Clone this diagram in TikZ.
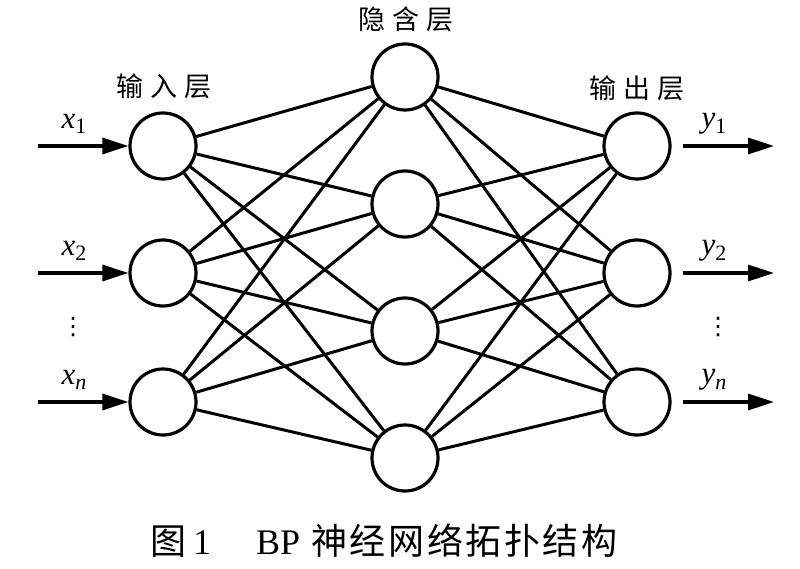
\documentclass[tikz,border=0pt]{standalone}
\usepackage{fontspec}
\setmainfont{Liberation Serif}
\newfontfamily\cjk{Noto Sans CJK SC}
\newfontfamily\dejavu{DejaVu Sans}
\usetikzlibrary{arrows.meta}
\newcommand{\cjsp}{\hspace{7pt}}
\tikzset{
  neuron/.style={circle,draw,line width=3.2pt,minimum size=66pt,inner sep=0pt,fill=white},
  link/.style={line width=3pt},
  io/.style={line width=3.2pt,-{Triangle[length=26pt,width=16pt]}},
  ttl/.style={font=\cjk\fontsize{27}{27}\selectfont,inner sep=0pt},
  lbl/.style={font=\fontsize{31}{31}\selectfont,inner sep=0pt},
  vdots/.style={font=\dejavu\fontsize{24}{24}\selectfont,inner sep=0pt}
}
\newcommand{\subl}[2]{\textit{#1}\raisebox{-0.4ex}{\fontsize{22}{22}\selectfont #2}}
\begin{document}
\begin{tikzpicture}[x=1pt,y=-1pt]
\useasboundingbox (0,0) rectangle (800,569);
% nodes
\node[neuron] (i1) at (163,146) {};
\node[neuron] (i2) at (163,273) {};
\node[neuron] (i3) at (163,402) {};
\node[neuron] (h1) at (405,77) {};
\node[neuron] (h2) at (405,204) {};
\node[neuron] (h3) at (405,331) {};
\node[neuron] (h4) at (405,458) {};
\node[neuron] (o1) at (637,146) {};
\node[neuron] (o2) at (637,273) {};
\node[neuron] (o3) at (637,402) {};
\foreach \i in {1,2,3}{
  \foreach \h in {1,2,3,4}{
    \draw[link] (i\i) -- (h\h);
    \draw[link] (h\h) -- (o\i);
  }
}
% inputs
\coordinate (a1) at (38,146);
\coordinate (a2) at (38,273);
\coordinate (a3) at (38,402);
\draw[io] (a1) -- (i1);
\draw[io] (a2) -- (i2);
\draw[io] (a3) -- (i3);
\coordinate (c1) at (683,146);
\coordinate (c2) at (683,273);
\coordinate (c3) at (683,402);
\coordinate (b1) at (774,146);
\coordinate (b2) at (774,273);
\coordinate (b3) at (774,402);
\draw[io] (c1) -- (b1);
\draw[io] (c2) -- (b2);
\draw[io] (c3) -- (b3);
% labels
\node[lbl] (lx1) at (74,124) {\subl{x}{1}};
\node[lbl] (lx2) at (74,251) {\subl{x}{2}};
\node[lbl] (lxn) at (74,380) {\subl{x}{\textit{n}}};
\node[lbl] (ly1) at (714,124) {\subl{y}{1}};
\node[lbl] (ly2) at (714,251) {\subl{y}{2}};
\node[lbl] (lyn) at (714,380) {\subl{y}{\textit{n}}};
\node[vdots] (d1) at (73,327) {⋮};
\node[vdots] (d2) at (718,327) {⋮};
% titles
\node[ttl] (t1) at (164,86) {输\cjsp 入\cjsp 层};
\node[ttl] (t2) at (406,19) {隐\cjsp 含\cjsp 层};
\node[ttl] (t3) at (637,88) {输\cjsp 出\cjsp 层};
% caption
\node[anchor=west,inner sep=0pt,font=\fontsize{36}{36}\selectfont] (cap) at (150,541)
 {{\cjk 图}\hspace{7pt}1\hspace{45pt}BP\hspace{11pt}{\cjk 神\hspace{2.6pt}经\hspace{2.6pt}网\hspace{2.6pt}络\hspace{2.6pt}拓\hspace{2.6pt}扑\hspace{2.6pt}结\hspace{2.6pt}构}};
\end{tikzpicture}
\end{document}
